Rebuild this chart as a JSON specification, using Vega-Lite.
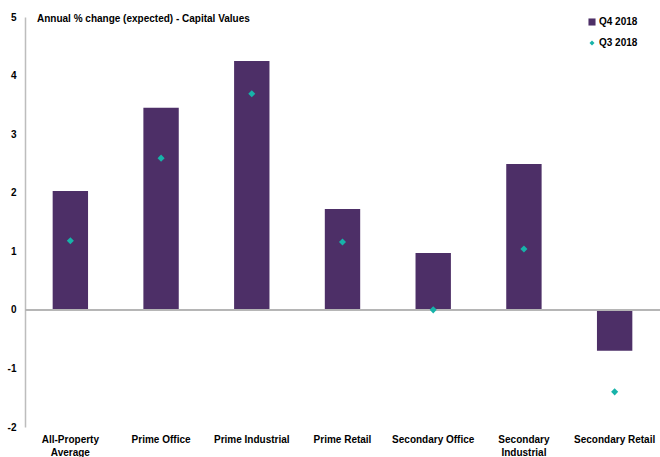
{
  "$schema": "https://vega.github.io/schema/vega-lite/v6.json",
  "width": 635,
  "height": 410,
  "autosize": {"type": "none"},
  "padding": {"left": 25, "top": 17, "right": 0, "bottom": 30},
  "background": "white",
  "title": {
    "text": "Annual % change (expected) - Capital Values",
    "anchor": "start",
    "frame": "group",
    "orient": "top",
    "offset": 0,
    "baseline": "middle",
    "dx": 12,
    "dy": 17,
    "font": "Liberation Sans",
    "fontSize": 10,
    "fontWeight": "bold",
    "color": "black"
  },
  "config": {
    "view": {"stroke": null},
    "font": "Liberation Sans"
  },
  "data": {
    "values": [
      {"category": "All-Property Average", "q4": 2.03, "q3": 1.18},
      {"category": "Prime Office", "q4": 3.45, "q3": 2.59},
      {"category": "Prime Industrial", "q4": 4.25, "q3": 3.69},
      {"category": "Prime Retail", "q4": 1.72, "q3": 1.16},
      {"category": "Secondary Office", "q4": 0.97, "q3": 0.0},
      {"category": "Secondary Industrial", "q4": 2.49, "q3": 1.04},
      {"category": "Secondary Retail", "q4": -0.70, "q3": -1.40}
    ]
  },
  "encoding": {
    "x": {
      "field": "category",
      "type": "nominal",
      "sort": null,
      "scale": {"paddingInner": 0.61, "paddingOuter": 0.305},
      "axis": {
        "title": null,
        "labelAngle": 0,
        "domain": false,
        "ticks": false,
        "labelPadding": 7,
        "labelFont": "Liberation Sans",
        "labelFontSize": 10,
        "labelFontWeight": "bold",
        "labelColor": "black",
        "labelLineHeight": 13,
        "labelExpr": "datum.label == 'All-Property Average' ? ['All-Property', 'Average'] : datum.label == 'Secondary Industrial' ? ['Secondary', 'Industrial'] : datum.label"
      }
    }
  },
  "layer": [
    {
      "mark": {"type": "bar", "color": "#4d2f67"},
      "encoding": {
        "y": {
          "field": "q4",
          "type": "quantitative",
          "scale": {"domain": [-2, 5], "nice": false},
          "axis": {
            "title": null,
            "grid": false,
            "ticks": false,
            "labelExpr": "'' + datum.value",
            "domainColor": "#bdbdbd",
            "domainWidth": 1.5,
            "values": [-2, -1, 0, 1, 2, 3, 4, 5],
            "labelPadding": 9,
            "labelFont": "Liberation Sans",
            "labelFontSize": 10,
            "labelFontWeight": "bold",
            "labelColor": "black"
          }
        },
        "color": {
          "datum": "Q4 2018",
          "type": "nominal",
          "scale": {"domain": ["Q4 2018", "Q3 2018"], "range": ["#4d2f67", "#17b3a9"]},
          "legend": {
            "title": null,
            "orient": "none",
            "legendX": 562,
            "legendY": 0,
            "rowPadding": 11,
            "symbolSize": 50,
            "symbolStrokeWidth": 0,
            "labelFont": "Liberation Sans",
            "labelFontSize": 10,
            "labelFontWeight": "bold",
            "labelColor": "black",
            "labelOffset": 2,
            "encode": {
              "symbols": {
                "update": {
                  "shape": {"signal": "datum.value == 'Q3 2018' ? 'diamond' : 'square'"},
                  "size": {"signal": "datum.value == 'Q3 2018' ? 25 : 50"}
                }
              }
            }
          }
        }
      }
    },
    {
      "mark": {"type": "rule", "color": "#b5b5b5", "strokeWidth": 1.5},
      "encoding": {
        "x": null,
        "y": {"datum": 0, "type": "quantitative"}
      }
    },
    {
      "mark": {"type": "point", "shape": "diamond", "filled": true, "size": 50, "opacity": 1},
      "encoding": {
        "y": {"field": "q3", "type": "quantitative"},
        "color": {"datum": "Q3 2018", "type": "nominal"}
      }
    }
  ]
}
